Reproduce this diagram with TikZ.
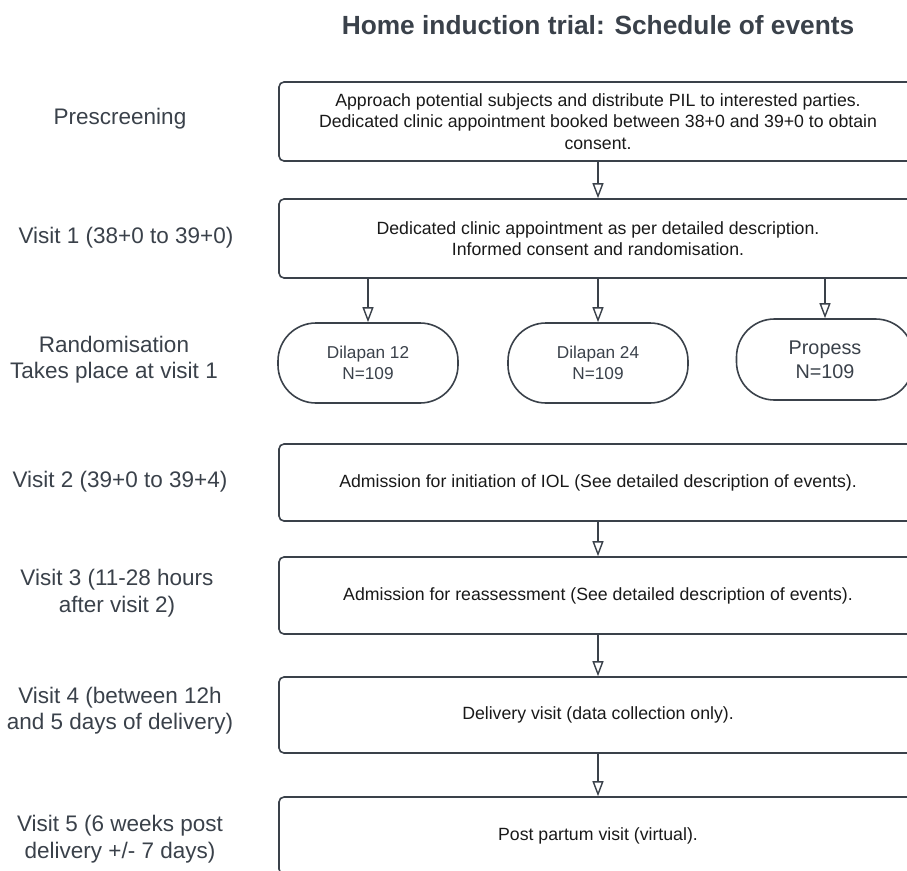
\documentclass[tikz,border=0pt]{standalone}
\usepackage{fontspec}
\setmainfont{Liberation Sans}
\usetikzlibrary{arrows.meta}
\definecolor{ink}{HTML}{3A414A}
\tikzset{
  box/.style={draw=ink, line width=1.6pt, rounded corners=5pt, text=black!90, align=center,
    font=\fontsize{17.7}{21.5}\selectfont, minimum width=638pt, minimum height=78pt, inner sep=0pt},
  oval/.style={draw=ink, line width=1.6pt, rounded corners=38pt, text=ink, align=center,
    font=\fontsize{17.2}{20.5}\selectfont, minimum width=180pt, minimum height=80pt, inner sep=0pt},
  lab/.style={text=ink, align=center, font=\fontsize{22.5}{26.5}\selectfont},
  arr/.style={draw=ink, line width=1.6pt, -{Triangle[open, length=15pt, width=11pt, line width=1.4pt]}},
}
\begin{document}
\begin{tikzpicture}[x=1pt,y=-1pt]
\useasboundingbox (0,0) rectangle (907,870);
\clip (0,0) rectangle (907,870);
\node[text=ink, font=\fontsize{26.3}{30}\selectfont\bfseries] (title) at (598,25) {Home induction trial: Schedule of events};
% left labels
\node[lab] (l0) at (120,119) {Prescreening};
\node[lab] (l1) at (126,238) {Visit 1 (38+0 to 39+0)};
\node[lab] (l2) at (114,359.5) {Randomisation\\Takes place at visit 1};
\node[lab] (l3) at (120,482) {Visit 2 (39+0 to 39+4)};
\node[lab] (l4) at (117,593) {Visit 3 (11-28 hours\\after visit 2)};
\node[lab] (l5) at (120,710.5) {Visit 4 (between 12h\\and 5 days of delivery)};
\node[lab] (l6) at (120,839) {Visit 5 (6 weeks post\\delivery +/- 7 days)};
% boxes
\node[box, minimum height=79pt] (b1) at (598,121.5) {Approach potential subjects and distribute PIL to interested parties.\\Dedicated clinic appointment booked between 38+0 and 39+0 to obtain\\consent.};
\node[box, minimum height=79pt] (b2) at (598,238.5) {Dedicated clinic appointment as per detailed description.\\Informed consent and randomisation.};
\node[oval] (o1) at (368,363) {Dilapan 12\\N=109};
\node[oval] (o2) at (598,363) {Dilapan 24\\N=109};
\node[oval, font=\fontsize{19.8}{24}\selectfont, minimum width=177pt, minimum height=81pt] (o3) at (825,359.5) {Propess\\N=109};
\node[box, minimum height=77pt] (b3) at (598,482.5) {Admission for initiation of IOL (See detailed description of events).};
\node[box, minimum height=77pt] (b4) at (598,595.5) {Admission for reassessment (See detailed description of events).};
\node[box, minimum height=76pt] (b5) at (598,715) {Delivery visit (data collection only).};
\node[box, minimum height=77pt] (b6) at (598,835.5) {Post partum visit (virtual).};
% arrows
\draw[arr] (b1.south) -- (b2.north);
\draw[arr] (b2.south -| o1.north) -- (o1.north);
\draw[arr] (b2.south -| o2.north) -- (o2.north);
\draw[arr] (b2.south -| o3.north) -- (o3.north);
\draw[arr] (b3.south) -- (b4.north);
\draw[arr] (b4.south) -- (b5.north);
\draw[arr] (b5.south) -- (b6.north);
\end{tikzpicture}
\end{document}
